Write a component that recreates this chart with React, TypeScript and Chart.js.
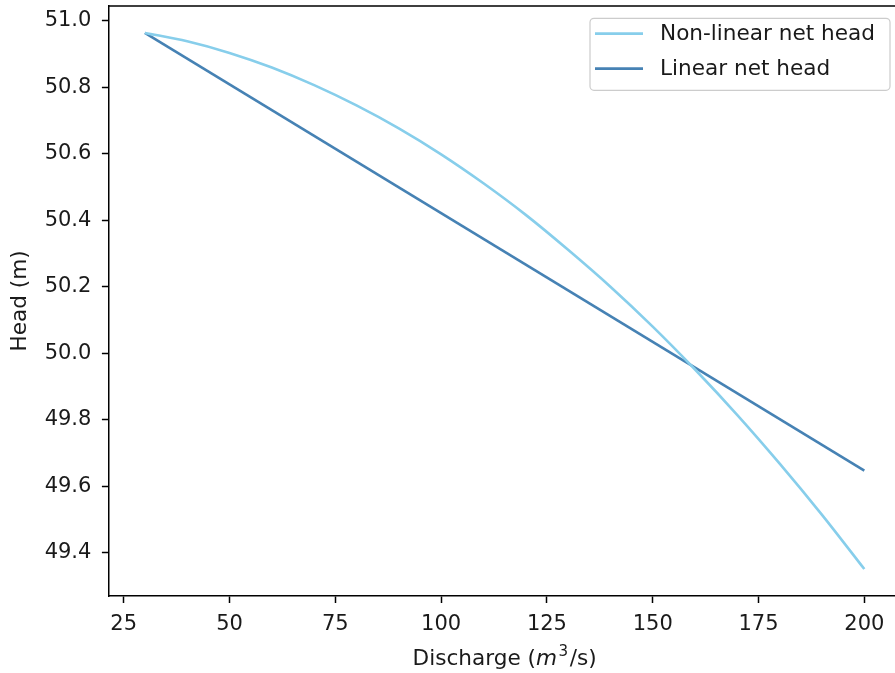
import React, { useEffect, useRef } from "react";
import { Chart, registerables } from "chart.js";

Chart.register(...registerables);

// ---- data ----
const discharge = [30, 40, 50, 60, 70, 80, 90, 100, 110, 120, 130, 140, 150, 160, 170, 180, 190, 200];
const nonLinearHead = [
  50.963, 50.938, 50.903, 50.859, 50.806, 50.745, 50.676, 50.598, 50.511, 50.416,
  50.311, 50.2, 50.08, 49.951, 49.814, 49.668, 49.514, 49.351,
];
const linearDischarge = [30, 200];
const linearHead = [50.963, 49.647];
const seriesLabels = ["Non-linear net head", "Linear net head"];
const seriesColors = ["#87CEEB", "#4682B4"];
const xTicks = [25, 50, 75, 100, 125, 150, 175, 200];
const yTicks = [49.4, 49.6, 49.8, 50.0, 50.2, 50.4, 50.6, 50.8, 51.0];
const xRange = [21.5, 208.5];
const yRange = [49.27, 51.044];
const yTitle = "Head (m)";

const FONT = "'DejaVu Sans', sans-serif";
const FS = 21;
const FS_BIG = 21.6;
const TEXT = "#1a1a1a";

const zeroPad = (s: any) => {
  s.paddingTop = 0;
  s.paddingBottom = 0;
  s.paddingLeft = 0;
  s.paddingRight = 0;
};

const framePlugin = {
  id: "frame",
  afterDatasetsDraw(chart: any) {
    const { ctx, chartArea: a } = chart;
    ctx.save();
    ctx.strokeStyle = "#000";
    ctx.lineWidth = 1.5;
    ctx.beginPath();
    ctx.moveTo(a.left, a.top);
    ctx.lineTo(a.right, a.top);
    ctx.lineTo(a.right, a.bottom);
    ctx.stroke();
    ctx.restore();
  },
};

const titlesPlugin = {
  id: "titles",
  afterDraw(chart: any) {
    const { ctx, chartArea: a } = chart;
    ctx.save();
    ctx.fillStyle = TEXT;
    // x title with italic m and superscript 3
    const parts = [
      { t: "Discharge (", f: `${FS_BIG}px ${FONT}`, dy: 0, gap: 0 },
      { t: "m", f: `italic ${FS_BIG}px ${FONT}`, dy: 0, gap: 1.5 },
      { t: "3", f: `${FS_BIG * 0.7}px ${FONT}`, dy: -FS_BIG * 0.42, gap: 1.5 },
      { t: "/s)", f: `${FS_BIG}px ${FONT}`, dy: 0, gap: 0 },
    ];
    let total = 0;
    const widths = parts.map((p) => {
      ctx.font = p.f;
      const w = ctx.measureText(p.t).width + p.gap;
      total += w;
      return w;
    });
    let x = (a.left + a.right) / 2 - total / 2;
    const base = 665;
    ctx.textBaseline = "alphabetic";
    ctx.textAlign = "left";
    parts.forEach((p, i) => {
      ctx.font = p.f;
      ctx.fillText(p.t, x, base + p.dy);
      x += widths[i];
    });
    // y title
    ctx.translate(20, (a.top + a.bottom) / 2);
    ctx.rotate(-Math.PI / 2);
    ctx.font = `${FS_BIG}px ${FONT}`;
    ctx.textAlign = "center";
    ctx.textBaseline = "middle";
    ctx.fillText(yTitle, 0, 0);
    ctx.restore();
  },
};

const legendPlugin = {
  id: "customLegend",
  afterDraw(chart: any) {
    const { ctx, chartArea: a } = chart;
    const right = a.right - 10.3;
    const top = a.top + 12.3;
    const w = 300;
    const h = 72;
    const left = right - w;
    ctx.save();
    ctx.beginPath();
    const r = 4;
    ctx.moveTo(left + r, top);
    ctx.lineTo(right - r, top);
    ctx.arcTo(right, top, right, top + r, r);
    ctx.lineTo(right, top + h - r);
    ctx.arcTo(right, top + h, right - r, top + h, r);
    ctx.lineTo(left + r, top + h);
    ctx.arcTo(left, top + h, left, top + h - r, r);
    ctx.lineTo(left, top + r);
    ctx.arcTo(left, top, left + r, top, r);
    ctx.closePath();
    ctx.fillStyle = "rgba(255,255,255,0.8)";
    ctx.fill();
    ctx.strokeStyle = "#cccccc";
    ctx.lineWidth = 1.2;
    ctx.stroke();
    chart.data.datasets.forEach((ds: any, i: number) => {
      const y = top + 15.3 + i * 35;
      ctx.strokeStyle = ds.borderColor;
      ctx.lineWidth = 2.6;
      ctx.beginPath();
      ctx.moveTo(left + 5, y);
      ctx.lineTo(left + 53, y);
      ctx.stroke();
      ctx.fillStyle = TEXT;
      ctx.font = `${FS_BIG}px ${FONT}`;
      ctx.textAlign = "left";
      ctx.textBaseline = "middle";
      ctx.fillText(ds.label, left + 70, y + 1);
    });
    ctx.restore();
  },
};

export default function App() {
  const ref = useRef<HTMLCanvasElement>(null);
  useEffect(() => {
    document.body.style.margin = "0";
    document.body.style.overflow = "hidden";
    const tickFont = { family: FONT, size: FS };
    const chart = new Chart(ref.current as HTMLCanvasElement, {
      type: "line",
      data: {
        datasets: [
          {
            label: seriesLabels[0],
            data: discharge.map((q, i) => ({ x: q, y: nonLinearHead[i] })),
            borderColor: seriesColors[0],
            backgroundColor: seriesColors[0],
            borderWidth: 2.6,
            pointRadius: 0,
            tension: 0.4,
            cubicInterpolationMode: "monotone",
            fill: false,
          },
          {
            label: seriesLabels[1],
            data: linearDischarge.map((q, i) => ({ x: q, y: linearHead[i] })),
            borderColor: seriesColors[1],
            backgroundColor: seriesColors[1],
            borderWidth: 2.6,
            pointRadius: 0,
            fill: false,
          },
        ],
      },
      options: {
        responsive: false,
        animation: false,
        devicePixelRatio: 1,
        layout: { padding: { top: 6, right: 9.7, left: 0, bottom: 0 } },
        plugins: { legend: { display: false }, tooltip: { enabled: false }, title: { display: false } },
        scales: {
          x: {
            type: "linear",
            min: xRange[0],
            max: xRange[1],
            afterBuildTicks: (s: any) => {
              s.ticks = xTicks.map((v) => ({ value: v }));
            },
            afterFit: (s: any) => {
              s.height = 77;
              zeroPad(s);
            },
            grid: { drawOnChartArea: false, drawTicks: true, tickLength: 7, tickWidth: 1.5, tickColor: "#000" },
            border: { color: "#000", width: 1.5 },
            ticks: {
              color: TEXT,
              font: tickFont,
              padding: 8.5,
              maxRotation: 0,
              autoSkip: false,
              callback: (v: any) => String(v),
            },
          },
          y: {
            type: "linear",
            min: yRange[0],
            max: yRange[1],
            afterBuildTicks: (s: any) => {
              s.ticks = yTicks.map((v) => ({ value: v }));
            },
            afterFit: (s: any) => {
              s.width = 108.9;
              zeroPad(s);
            },
            grid: { drawOnChartArea: false, drawTicks: true, tickLength: 7, tickWidth: 1.5, tickColor: "#000" },
            border: { color: "#000", width: 1.5 },
            ticks: {
              color: TEXT,
              font: tickFont,
              padding: 10.5,
              autoSkip: false,
              callback: (v: any) => Number(v).toFixed(1),
            },
          },
        },
      },
      plugins: [framePlugin, titlesPlugin, legendPlugin],
    } as any);
    return () => chart.destroy();
  }, []);
  return (
    <div style={{ position: "fixed", left: 0, top: 0, width: 910, height: 673 }}>
      <canvas ref={ref} width={910} height={673} style={{ display: "block" }} />
    </div>
  );
}
